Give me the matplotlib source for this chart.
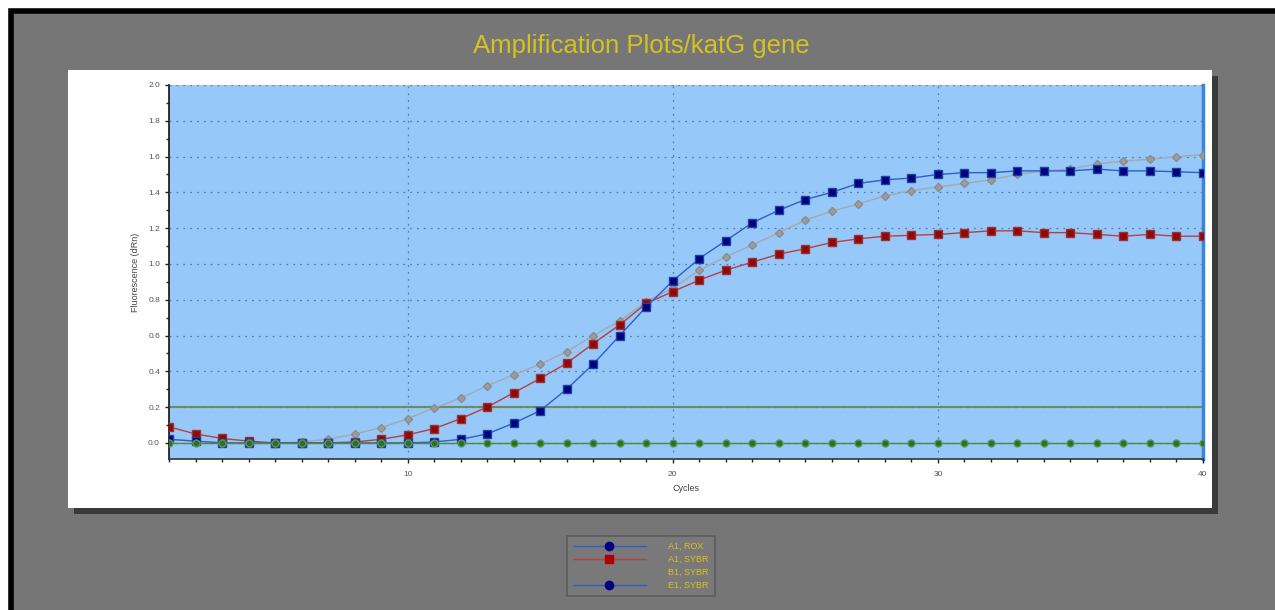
import numpy as np
import matplotlib
matplotlib.use("Agg")
import matplotlib.pyplot as plt
from matplotlib.lines import Line2D
from matplotlib.patches import Rectangle

plt.rcParams['font.family'] = ['Liberation Sans', 'DejaVu Sans']

# cycles 1..40
cycles = np.arange(1, 41)

# E1, SYBR (navy squares)
e1_sybr = [0.02, 0.01, 0.0, 0.0, 0.0, 0.0, 0.0, 0.0, 0.0, 0.0,
           0.005, 0.02, 0.05, 0.11, 0.18, 0.30, 0.44, 0.60, 0.76, 0.905,
           1.03, 1.13, 1.23, 1.30, 1.36, 1.40, 1.45, 1.47, 1.48, 1.50,
           1.51, 1.51, 1.52, 1.52, 1.52, 1.53, 1.52, 1.52, 1.515, 1.51]

# A1, SYBR (red squares)
a1_sybr = [0.09, 0.05, 0.025, 0.01, 0.0, 0.0, 0.0, 0.005, 0.02, 0.045,
           0.08, 0.135, 0.20, 0.28, 0.36, 0.445, 0.555, 0.66, 0.78, 0.845,
           0.91, 0.965, 1.01, 1.055, 1.085, 1.12, 1.14, 1.155, 1.16, 1.165,
           1.175, 1.185, 1.185, 1.175, 1.175, 1.165, 1.155, 1.165, 1.155, 1.155]

# B1, SYBR (grey diamonds)
b1_sybr = [0.02, 0.01, 0.0, 0.0, 0.0, 0.005, 0.02, 0.05, 0.085, 0.135,
           0.195, 0.25, 0.32, 0.38, 0.44, 0.51, 0.60, 0.68, 0.79, 0.865,
           0.965, 1.04, 1.105, 1.175, 1.245, 1.295, 1.335, 1.38, 1.41, 1.43,
           1.45, 1.47, 1.50, 1.52, 1.53, 1.56, 1.575, 1.585, 1.60, 1.61]

# A1, ROX (green circles, flat)
a1_rox = [0.0] * 40

threshold = 0.2
legend_labels = ["A1, ROX", "A1, SYBR", "B1, SYBR", "E1, SYBR"]

W, H = 1275, 610
fig = plt.figure(figsize=(W / 100, H / 100), dpi=100)
fig.patch.set_facecolor('white')

def px_rect(x0, y0, x1, y1, **kw):
    # rectangle given in pixel coords (origin top-left)
    r = Rectangle((x0 / W, 1 - y1 / H), (x1 - x0) / W, (y1 - y0) / H,
                  transform=fig.transFigure, **kw)
    fig.patches.append(r)

# outer grey frame with black top/left border
px_rect(11, 11, W + 5, H + 5, facecolor='#767676', edgecolor='black', linewidth=4, zorder=0)
# white panel with shadow
px_rect(74, 76, 1218, 514, facecolor='#3a3a3a', edgecolor='none', zorder=1)
px_rect(68, 70, 1212, 508, facecolor='white', edgecolor='none', zorder=2)

ax = fig.add_axes([169 / W, 1 - 459 / H, (1203 - 169) / W, (459 - 85) / H], zorder=3)
ax.set_facecolor('#96C8FA')

ax.plot(cycles, b1_sybr, color='#A8A8A8', lw=1.0, marker='D', ms=4.5,
        mfc='#9C9C9C', mec='#8C8C8C', zorder=3)
ax.plot(cycles, a1_sybr, color='#B84040', lw=1.0, marker='s', ms=5.5,
        mfc='#8E0A0A', mec='#A03030', zorder=4)
ax.plot(cycles, e1_sybr, color='#2F5FC8', lw=1.0, marker='s', ms=5.5,
        mfc='#000080', mec='#2040A0', zorder=5)
ax.plot(cycles, a1_rox, color='#4E8A3A', lw=1.0, marker='o', ms=5,
        mfc='#2E6E2A', mec='#5A9A50', zorder=6)
ax.axhline(threshold, color='#6F8F55', lw=1.5, zorder=2)

ax.set_xlim(1, 40)
ax.set_ylim(-0.09, 2.0)
ax.set_xticks([10, 20, 30, 40])
ax.set_xticks(cycles, minor=True)
ax.set_yticks(np.arange(0, 2.01, 0.2))
ax.set_yticks(np.arange(0, 2.01, 0.1), minor=True)
ax.set_yticklabels([f"{v:.1f}" for v in np.arange(0, 2.01, 0.2)])
ax.tick_params(axis='both', which='both', direction='out', color='#222222',
               labelsize=6, labelcolor='#555555', width=1)
ax.tick_params(which='major', length=3)
ax.tick_params(which='minor', length=2.5)
ax.tick_params(axis='x', pad=6)
ax.grid(True, which='major', color='#5C7FA8', linestyle=(0, (1.5, 4)), lw=0.9)
ax.set_axisbelow(False)

ax.spines['top'].set_visible(False)
ax.spines['left'].set_color('#111111')
ax.spines['bottom'].set_color('#333333')
ax.spines['left'].set_linewidth(1.2)
ax.spines['bottom'].set_linewidth(1.2)
ax.spines['right'].set_color('#3C84DA')
ax.spines['right'].set_linewidth(2.5)

ax.set_xlabel("Cycles", fontsize=6.5, color='#444444', labelpad=4)
ax.set_ylabel("Fluorescence (dRn)", fontsize=6.5, color='#444444', labelpad=6)

fig.text(641 / W, 1 - 46 / H, "Amplification Plots/katG gene", ha='center', va='center',
         fontsize=18.5, color='#D6C21E')

handles = [
    Line2D([], [], color='#2F5FC8', lw=1, marker='o', ms=6, mfc='#000080', mec='#000080'),
    Line2D([], [], color='#B84040', lw=1, marker='s', ms=6, mfc='#B00000', mec='#B00000'),
    Line2D([], [], color='#7E7E7E', lw=1, marker='', alpha=0.5),
    Line2D([], [], color='#2F5FC8', lw=1, marker='o', ms=6, mfc='#000080', mec='#000080'),
]
leg = fig.legend(handles, legend_labels, loc='center', bbox_to_anchor=(641 / W, 1 - 566 / H),
                 fontsize=6.5, frameon=True, fancybox=False, handlelength=8,
                 labelspacing=0.45, borderpad=0.7, handletextpad=2.5)
leg.get_frame().set_facecolor('#7A7A7A')
leg.get_frame().set_edgecolor('#555555')
leg.get_frame().set_linewidth(1.2)
for t in leg.get_texts():
    t.set_color('#D6C21E')
leg.set_zorder(5)

fig.savefig("out.png", dpi=100)
